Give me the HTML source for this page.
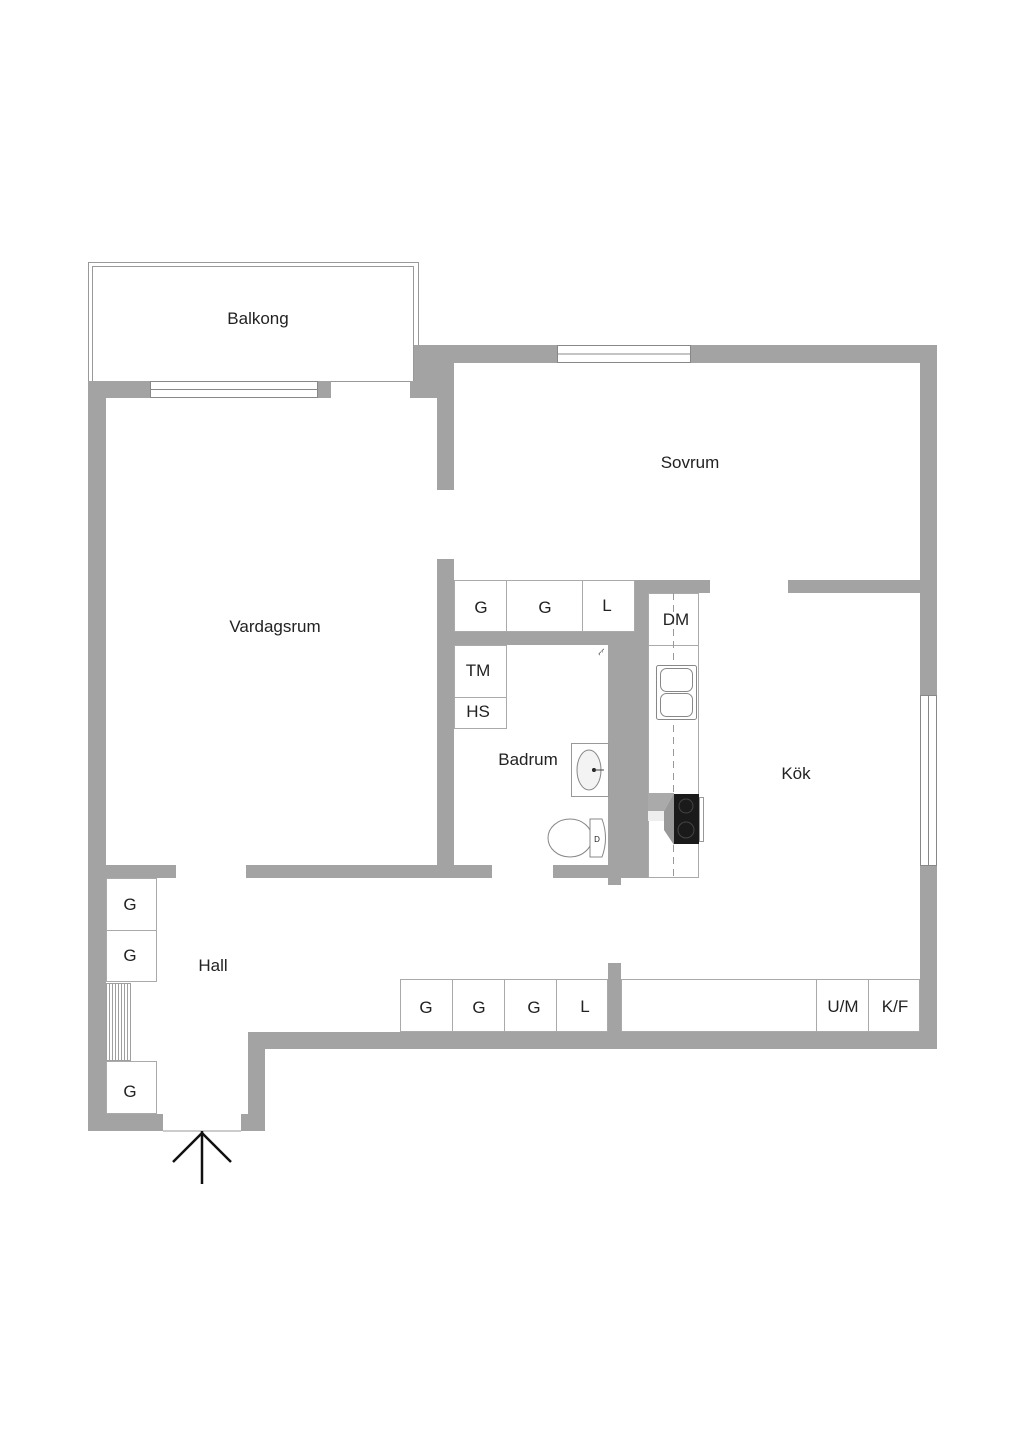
<!DOCTYPE html>
<html><head><meta charset="utf-8"><style>
html,body{margin:0;padding:0;background:#fff;}
svg{display:block;}
text{font-family:"Liberation Sans",sans-serif;fill:#222;}
</style></head><body>
<svg width="1024" height="1449" viewBox="0 0 1024 1449" xmlns="http://www.w3.org/2000/svg">
<!-- Balcony -->
<rect x="88.5" y="262.5" width="330" height="119" fill="#fff" stroke="#999" stroke-width="1"/>
<rect x="92.5" y="266.5" width="321" height="115" fill="#fff" stroke="#999" stroke-width="1"/>
<text x="258" y="324" font-size="17" text-anchor="middle">Balkong</text>

<g fill="#a3a3a3">
<!-- left outer wall -->
<rect x="88" y="381" width="18" height="750"/>
<rect x="88" y="381" width="62" height="17"/>
<rect x="318" y="381" width="13" height="17"/>
<rect x="410" y="381" width="44" height="17"/>
<rect x="437" y="345" width="17" height="145"/>
<rect x="414" y="345" width="40" height="36"/>
<!-- sovrum top -->
<rect x="414" y="345" width="143" height="18"/>
<rect x="691" y="345" width="246" height="18"/>
<!-- right wall -->
<rect x="920" y="345" width="17" height="350"/>
<rect x="920" y="866" width="17" height="183"/>
<!-- sovrum/kok partition -->
<rect x="788" y="580" width="132" height="13"/>
<rect x="635" y="580" width="75" height="13"/>
<!-- central partition -->
<rect x="437" y="559" width="17" height="319"/>
<rect x="437" y="632" width="211" height="13"/>
<rect x="608" y="580" width="40" height="298"/>
<rect x="608" y="878" width="13" height="7"/>
<!-- vardagsrum bottom -->
<rect x="106" y="865" width="70" height="13"/>
<rect x="246" y="865" width="246" height="13"/>
<rect x="553" y="865" width="95" height="13"/>
<!-- bottom walls -->
<rect x="248" y="1032" width="689" height="17"/>
<rect x="248" y="1032" width="17" height="99"/>
<rect x="241" y="1114" width="24" height="17"/>
<rect x="88" y="1114" width="75" height="17"/>
<rect x="608" y="963" width="13" height="69"/>
</g>

<!-- windows -->
<g fill="#fff" stroke="#888" stroke-width="1">
<rect x="150.5" y="381.5" width="167" height="16"/>
<line x1="150" y1="389.5" x2="318" y2="389.5"/>
<rect x="557.5" y="345.5" width="133" height="17"/>
<line x1="557" y1="354" x2="691" y2="354"/>
<rect x="920.5" y="695.5" width="16" height="170"/>
<line x1="928.5" y1="695" x2="928.5" y2="866"/>
</g>
<line x1="163" y1="1131" x2="241" y2="1131" stroke="#999" stroke-width="1"/>

<!-- cabinets -->
<g fill="#fff" stroke="#aaa" stroke-width="1">
<rect x="454.5" y="580.5" width="180" height="51"/>
<line x1="506.5" y1="580" x2="506.5" y2="632"/>
<line x1="582.5" y1="580" x2="582.5" y2="632"/>
<rect x="454.5" y="645.5" width="52" height="83"/>
<line x1="454" y1="697.5" x2="506" y2="697.5"/>
<rect x="400.5" y="979.5" width="207" height="52"/>
<line x1="452.5" y1="979" x2="452.5" y2="1032"/>
<line x1="504.5" y1="979" x2="504.5" y2="1032"/>
<line x1="556.5" y1="979" x2="556.5" y2="1032"/>
<rect x="621.5" y="979.5" width="298" height="52"/>
<line x1="816.5" y1="979" x2="816.5" y2="1032"/>
<line x1="868.5" y1="979" x2="868.5" y2="1032"/>
<rect x="106.5" y="878.5" width="50" height="103"/>
<line x1="106" y1="930.5" x2="157" y2="930.5"/>
<rect x="106.5" y="1061.5" width="50" height="52"/>
<rect x="648.5" y="593.5" width="50" height="284"/>
<line x1="648" y1="645.5" x2="699" y2="645.5"/>
</g>
<line x1="673.5" y1="593" x2="673.5" y2="878" stroke="#999" stroke-width="1" stroke-dasharray="7,5"/>
<!-- radiator -->
<g stroke="#888" stroke-width="0.8">
<rect x="106.5" y="983.5" width="24" height="77" fill="#fff"/>
<line x1="109.5" y1="984" x2="109.5" y2="1060"/><line x1="112.5" y1="984" x2="112.5" y2="1060"/>
<line x1="115.5" y1="984" x2="115.5" y2="1060"/><line x1="118.5" y1="984" x2="118.5" y2="1060"/>
<line x1="121.5" y1="984" x2="121.5" y2="1060"/><line x1="124.5" y1="984" x2="124.5" y2="1060"/>
<line x1="127.5" y1="984" x2="127.5" y2="1060"/>
</g>
<!-- kitchen sink -->
<g fill="#fff" stroke="#888" stroke-width="1">
<rect x="656.5" y="665.5" width="40" height="54" rx="2"/>
<rect x="660.5" y="668.5" width="32" height="23" rx="6"/>
<rect x="660.5" y="693.5" width="32" height="23" rx="6"/>
</g>
<!-- stove -->
<polygon points="648,793 674,793 664,811 648,811" fill="#aaa"/>
<polygon points="674,793 674,845 664,830 664,811" fill="#999"/>
<rect x="648" y="811" width="16" height="10" fill="#eee"/>
<rect x="674" y="794" width="25" height="50" fill="#1a1a1a"/>
<circle cx="686" cy="806" r="7" fill="none" stroke="#444"/>
<circle cx="686" cy="830" r="8" fill="none" stroke="#444"/>
<rect x="699.5" y="797.5" width="4" height="44" fill="#fff" stroke="#999"/>
<!-- bathroom sink -->
<rect x="571.5" y="743.5" width="37" height="53" fill="#fff" stroke="#999"/>
<ellipse cx="589" cy="770" rx="12" ry="20" fill="#f3f3f3" stroke="#888"/>
<circle cx="594" cy="770" r="2" fill="#222"/>
<line x1="594" y1="770" x2="604" y2="770" stroke="#444"/>
<!-- toilet -->
<ellipse cx="570" cy="838" rx="22" ry="19" fill="#fff" stroke="#888"/>
<path d="M590,819 L602,819 Q609,838 602,857 L590,857 Z" fill="#fff" stroke="#888"/>
<text x="597" y="842" font-size="8" text-anchor="middle">D</text>
<text x="600" y="656" font-size="7" fill="#666" transform="rotate(-45 600 656)">⌐⌐</text>

<!-- entrance arrow -->
<g stroke="#111" stroke-width="2.5" fill="none">
<line x1="202" y1="1131" x2="202" y2="1184"/>
<line x1="173" y1="1162" x2="202" y2="1133"/>
<line x1="231" y1="1162" x2="202" y2="1133"/>
</g>

<!-- labels -->
<g font-size="17" text-anchor="middle">
<text x="690" y="468">Sovrum</text>
<text x="275" y="632">Vardagsrum</text>
<text x="528" y="765">Badrum</text>
<text x="796" y="779">Kök</text>
<text x="213" y="971">Hall</text>
<text x="481" y="613">G</text>
<text x="545" y="613">G</text>
<text x="607" y="611">L</text>
<text x="676" y="625">DM</text>
<text x="478" y="676">TM</text>
<text x="478" y="717">HS</text>
<text x="130" y="910">G</text>
<text x="130" y="961">G</text>
<text x="130" y="1097">G</text>
<text x="426" y="1013">G</text>
<text x="479" y="1013">G</text>
<text x="534" y="1013">G</text>
<text x="585" y="1012">L</text>
<text x="843" y="1012">U/M</text>
<text x="895" y="1012">K/F</text>
</g>
</svg>
</body></html>
